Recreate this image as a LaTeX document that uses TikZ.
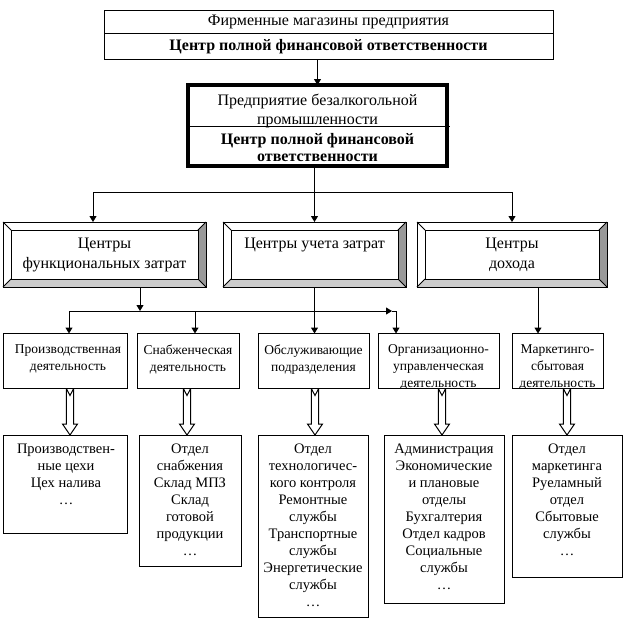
\documentclass[tikz,border=0pt]{standalone}
\usepackage{fontspec}
\setmainfont{Liberation Serif}
\usetikzlibrary{arrows.meta,calc}
\tikzset{
  box/.style={draw, line width=1pt, inner sep=0pt, outer sep=0pt, fill=white},
  thickbox/.style={draw, line width=4pt, inner sep=0pt, outer sep=0pt, fill=white},
  bev/.style={inner sep=0pt, outer sep=0pt},
  txt/.style={align=center, inner sep=0pt, font=\fontsize{16}{17}\selectfont},
  txtb/.style={align=center, inner sep=0pt, font=\fontsize{16}{17}\selectfont\bfseries},
  txtm/.style={align=center, inner sep=0pt, font=\fontsize{16}{20}\selectfont},
  txts/.style={align=center, inner sep=0pt, font=\fontsize{13.5}{17}\selectfont},
  txtl/.style={align=center, inner sep=0pt, font=\fontsize{14.5}{17}\selectfont},
  arr/.style={line width=1pt, -{Triangle[width=7pt,length=6pt]}},
  ln/.style={line width=1pt},
  hollow/.style={line width=1pt, to path={let \p1=(\tikztostart), \p2=(\tikztotarget) in
    (\x1-3.7pt,\y1) -- (\x1-3.7pt,\y2+11pt) -- (\x1-7.5pt,\y2+11pt) -- (\x1,\y2)
    -- (\x1+7.5pt,\y2+11pt) -- (\x1+3.7pt,\y2+11pt) -- (\x1+3.7pt,\y1)
    (\x1-3.7pt,\y1) -- (\x1,\y1-7pt) -- (\x1+3.7pt,\y1)}}
}
\definecolor{bevdark}{HTML}{999999}
\definecolor{bevlight}{HTML}{CCCCCC}
\newcommand\bevelfill[1]{%
  \fill[white] (#1.north west) -- (#1.north east) -- ([shift={(-8,8)}]#1.north east)
    -- ([shift={(8,8)}]#1.north west) -- ([shift={(8,-8)}]#1.south west) -- (#1.south west) -- cycle;
  \fill[bevdark] (#1.north east) -- (#1.south east) -- ([shift={(-8,-8)}]#1.south east)
    -- ([shift={(-8,8)}]#1.north east) -- cycle;
  \fill[bevlight] (#1.south west) -- (#1.south east) -- ([shift={(-8,-8)}]#1.south east)
    -- ([shift={(8,-8)}]#1.south west) -- cycle;
  \draw[ln] (#1.north west) rectangle (#1.south east);
  \draw[ln] ([shift={(8,8)}]#1.north west) rectangle ([shift={(-8,-8)}]#1.south east);
  \draw[ln] (#1.north west) -- ([shift={(8,8)}]#1.north west);
  \draw[ln] (#1.north east) -- ([shift={(-8,8)}]#1.north east);
  \draw[ln] (#1.south west) -- ([shift={(8,-8)}]#1.south west);
  \draw[ln] (#1.south east) -- ([shift={(-8,-8)}]#1.south east);
}
\begin{document}
\begin{tikzpicture}[x=1pt,y=-1pt]
\useasboundingbox (0,0) rectangle (627,625);
\fill[white] (0,0) rectangle (627,625);

% top box
\node[box, minimum width=449, minimum height=49] (top) at (328.5,34.5) {};
\draw[ln] (104,33) -- (553,33);
\node[txt] (t1) at (328.5,22) {Фирменные магазины предприятия};
\node[txtb] (t1b) at (328.5,46.5) {Центр полной финансовой ответственности};

% enterprise box
\node[thickbox, minimum width=259, minimum height=81] (ent) at (317.5,125.5) {};
\draw[ln] (188,126) -- (450,126);
\node[txt, font=\fontsize{16}{19}\selectfont] (t2) at (317.5,110.5) {Предприятие безалкогольной\\промышленности};
\node[txtb] (t2b) at (317.5,147.5) {Центр полной финансовой\\ответственности};

\draw[arr] (ent.north |- top.south) -- (ent.north);

% level 3
\node[bev, minimum width=203, minimum height=65] (f1) at (104.5,254.5) {};
\node[bev, minimum width=183, minimum height=65] (f2) at (314.5,254.5) {};
\node[bev, minimum width=190, minimum height=65] (f3) at (512,254.5) {};
\bevelfill{f1}\bevelfill{f2}\bevelfill{f3}
\node[txtm] (tf1) at (104.5,255) {Центры\\функциональных затрат};
\node[txtm] (tf2) at (314.5,245) {Центры учета затрат};
\node[txtm] (tf3) at (512,255) {Центры\\дохода};

\coordinate (cL) at (93,192);
\coordinate (cR) at (512,192);
\draw[ln] (f2.north |- ent.south) -- (f2.north |- cL);
\draw[ln] (cL) -- (cR);
\draw[arr] (cL) -- (cL |- f1.north);
\draw[arr] (f2.north |- cL) -- (f2.north);
\draw[arr] (cR) -- (f3.north);

% level 4 boxes
\node[box, minimum width=124, minimum height=55] (p1) at (65,361) {};
\node[box, minimum width=102, minimum height=55] (p2) at (188,361) {};
\node[box, minimum width=111, minimum height=55] (p3) at (313.5,361) {};
\node[box, minimum width=121, minimum height=55] (p4) at (438.5,361) {};
\node[box, minimum width=91, minimum height=55] (p5) at (557.5,361) {};
\node[txts, anchor=north] (tp1) at (68,344.5) {Производственная\\деятельность};
\node[txts, anchor=north] (tp2) at (188,344.5) {Снабженческая\\деятельность};
\node[txts, anchor=north] (tp3) at (313.5,344.5) {Обслуживающие\\подразделения};
\begin{scope}
  \clip (p4.north west) rectangle (p4.south east);
  \node[txts, anchor=north] (tp4) at (438.5,344.5) {Организационно-\\управленческая\\деятельность};
\end{scope}
\begin{scope}
  \clip (p5.north west) rectangle (p5.south east);
  \node[txts, anchor=north] (tp5) at (557.5,344.5) {Маркетинго-\\сбытовая\\деятельность};
\end{scope}
\draw[ln] (p4.north west) rectangle (p4.south east);
\draw[ln] (p5.north west) rectangle (p5.south east);

% level 4 connectors
\coordinate (j1) at (140,311);
\coordinate (h1) at (69,311);
\coordinate (h2) at (392,311);
\coordinate (h3) at (396,311);
\coordinate (h4) at (195,311);
\coordinate (k5) at (538,287);
\draw[arr] (f1.south -| j1) -- (j1);
\draw[arr] (h1) -- (h2);
\draw[arr] (h1) -- (h1 |- p1.north);
\draw[arr] (h4) -- (h4 |- p2.north);
\draw[ln] (h2) -- (h3);
\draw[arr] (h3) -- (h3 |- p4.north);
\draw[arr] (f2.south) -- (f2.south |- p3.north);
\draw[arr] (k5) -- (k5 |- p5.north);

% bottom boxes
\node[box, minimum width=124, minimum height=98, anchor=north west] (b1) at (3,435) {};
\node[box, minimum width=102, minimum height=131, anchor=north west] (b2) at (139,435) {};
\node[box, minimum width=110, minimum height=182, anchor=north west] (b3) at (258,435) {};
\node[box, minimum width=120, minimum height=168, anchor=north west] (b4) at (384,435) {};
\node[box, minimum width=110, minimum height=142, anchor=north west] (b5) at (512,435) {};
\node[txtl, anchor=north] (tb1) at (66,443.5) {Производствен-\\ные цехи\\Цех налива\\…};
\node[txtl, anchor=north] (tb2) at (190,443.5) {Отдел\\снабжения\\Склад МПЗ\\Склад\\готовой\\продукции\\…};
\node[txtl, anchor=north] (tb3) at (313,443.5) {Отдел\\технологичес-\\кого контроля\\Ремонтные\\службы\\Транспортные\\службы\\Энергетические\\службы\\…};
\node[txtl, anchor=north] (tb4) at (444,443.5) {Администрация\\Экономические\\и плановые\\отделы\\Бухгалтерия\\Отдел кадров\\Социальные\\службы\\…};
\node[txtl, anchor=north] (tb5) at (567,443.5) {Отдел\\маркетинга\\Руеламный\\отдел\\Сбытовые\\службы\\…};

% hollow arrows
\draw[hollow] ([xshift=5pt]p1.south) to (b1.north);
\draw[hollow] ([xshift=-1pt]p2.south) to (b2.north);
\draw[hollow] ([xshift=1.5pt]p3.south) to (b3.north);
\draw[hollow] ([xshift=3.5pt]p4.south) to (b4.north);
\draw[hollow] ([xshift=9.5pt]p5.south) to (b5.north);
\end{tikzpicture}
\end{document}
